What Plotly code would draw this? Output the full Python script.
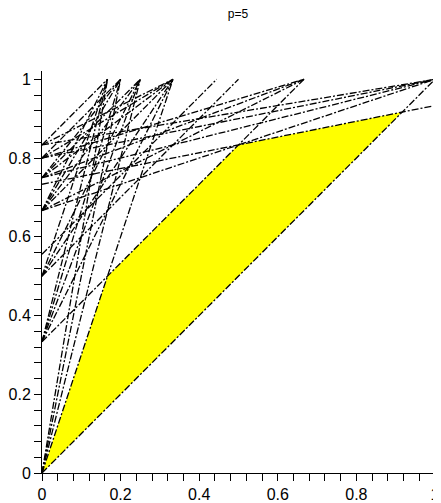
import plotly.graph_objects as go

# Feasible region (yellow polygon)
region_x = [0, 1/6, 1/2, 11/12, 0]
region_y = [0, 1/2, 5/6, 11/12, 0]

# Constraint lines: each runs from a point on the left edge (x=0, y=seg_y0)
# to a point on the top edge (x=seg_x1, y=seg_y1)
seg_y0 = [0, 0, 0, 0, 0,
          1/3, 1/3, 1/3, 1/3, 1/3,
          1/2, 1/2, 1/2, 1/2,
          5/9,
          2/3, 2/3, 2/3, 2/3, 2/3, 2/3,
          3/4, 3/4, 3/4, 3/4, 3/4,
          4/5, 4/5, 4/5, 4/5,
          5/6, 5/6, 5/6,
          11/15]
seg_x1 = [1/6, 1/5, 1/4, 1/3, 1,
          1/6, 1/5, 1/4, 1/3, 2/3,
          1/6, 1/4, 1/3, 1/2,
          4/9,
          1/6, 1/5, 1/4, 1/3, 2/3, 1,
          1/5, 1/4, 1/3, 2/3, 1,
          1/5, 1/3, 2/3, 1,
          1/6, 1/3, 1,
          1]
seg_y1 = [1] * 33 + [14/15]
seg_x0 = [0] * len(seg_y0)

tick_vals = [0, 0.2, 0.4, 0.6, 0.8, 1]
tick_text = ["0", "0.2", "0.4", "0.6", "0.8", "1"]
title_text = "p=5"

fig = go.Figure()

fig.add_trace(go.Scatter(
    x=region_x, y=region_y, mode="lines", fill="toself",
    fillcolor="#ffff00", line=dict(width=0), hoverinfo="skip", showlegend=False))

# faint yellow edge at x=1
fig.add_trace(go.Scatter(
    x=[1, 1], y=[0, 1], mode="lines",
    line=dict(color="#fffbd0", width=1), hoverinfo="skip", showlegend=False))

lx, ly = [], []
for a, b, c, d in zip(seg_x0, seg_y0, seg_x1, seg_y1):
    lx += [a, c, None]
    ly += [b, d, None]

dash_style = "7px,2px,2px,2px"
fig.add_trace(go.Scatter(
    x=lx, y=ly, mode="lines",
    line=dict(color="black", width=1.3, dash=dash_style),
    hoverinfo="skip", showlegend=False))

axis_common = dict(
    showgrid=False, zeroline=False, showline=True, linecolor="black", linewidth=1,
    ticks="outside", ticklen=7, tickcolor="black", tickwidth=1,
    automargin=False, tickvals=tick_vals, ticktext=tick_text,
    minor=dict(tickmode="linear", tick0=0, dtick=0.04, ticks="outside", ticklen=7,
               tickcolor="black", tickwidth=1, showgrid=False),
    tickfont=dict(family="Liberation Sans, Arial, sans-serif", size=16, color="black"),
)

# the page body adds an 8px offset, so the figure is sized to fit the window
fig.update_layout(
    template="none",
    width=433, height=495,
    margin=dict(l=34, r=6, t=63, b=30, autoexpand=False),
    plot_bgcolor="white", paper_bgcolor="white",
    title=dict(text=title_text, x=0.531, xanchor="center", y=0.988, yanchor="middle",
               font=dict(family="Liberation Sans, Arial, sans-serif", size=12, color="black")),
    xaxis=dict(range=[0, 1], **axis_common),
    yaxis=dict(range=[0, 1.021], **axis_common),
)

fig.write_html("out.html")
